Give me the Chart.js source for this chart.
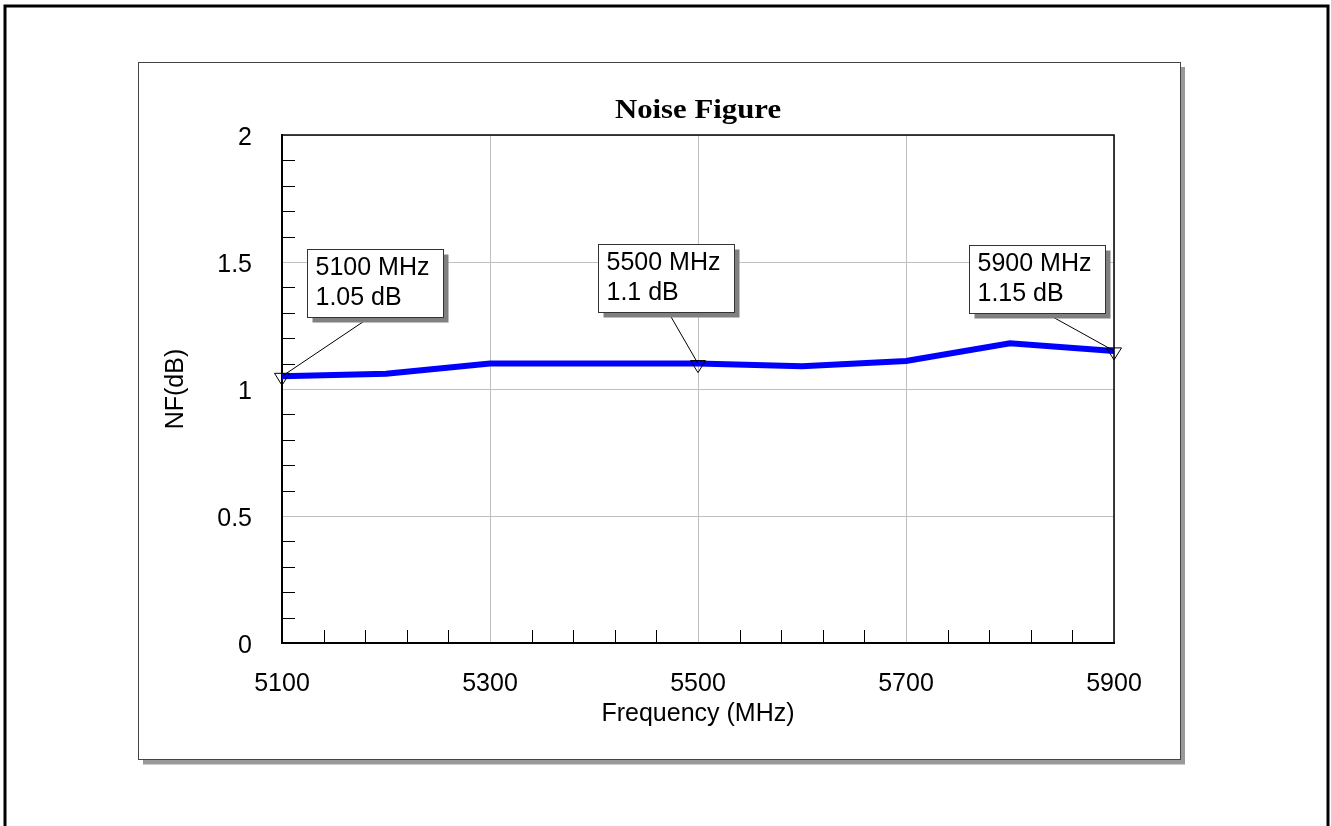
<!DOCTYPE html>
<html>
<head>
<meta charset="utf-8">
<title>Noise Figure</title>
<script src="https://cdn.jsdelivr.net/npm/chart.js@4"></script>
<style>
  html, body { margin: 0; padding: 0; background: #fff; }
  canvas { display: block; }
</style>
</head>
<body>
<canvas id="chart" width="1331" height="826"></canvas>
<script>
// values
const freqs = [5100, 5200, 5300, 5400, 5500, 5600, 5700, 5800, 5900];
const nfValues = [1.05, 1.06, 1.10, 1.10, 1.10, 1.09, 1.11, 1.18, 1.15];
const markerFreqs = [5100, 5500, 5900];
const xTickLabels = [5100, 5300, 5500, 5700, 5900];
const yTickLabels = [0, 0.5, 1, 1.5, 2];

const near = (arr, v, eps) => arr.some(a => Math.abs(a - v) < eps);
const isMajorX = v => near(xTickLabels, v, 0.5);
const isMajorY = v => near(yTickLabels, v, 1e-6);

// callout box placement relative to its marker: dx, dy, leader anchor on box bottom
const calloutPos = {
  5100: [25, -127, 62],
  5500: [-100, -120, 70],
  5900: [-145, -106, 77]
};

const framePlugin = {
  id: 'frame',
  beforeDraw(chart) {
    const c = chart.ctx;
    c.save();
    c.fillStyle = '#fff';
    c.fillRect(0, 0, chart.width, chart.height);
    // outer page border
    c.strokeStyle = '#000';
    c.lineWidth = 3;
    c.beginPath();
    c.moveTo(5, 840); c.lineTo(5, 6); c.lineTo(1328, 6); c.lineTo(1328, 840);
    c.stroke();
    // panel + drop shadow
    c.fillStyle = '#999';
    c.fillRect(143, 67, 1042, 697.5);
    c.fillStyle = '#fff';
    c.fillRect(138.5, 62.5, 1042, 697);
    c.strokeStyle = '#444';
    c.lineWidth = 1;
    c.strokeRect(138.5, 62.5, 1042, 697);
    c.restore();
  },
  afterDraw(chart) {
    const c = chart.ctx;
    const {left, right, top, bottom} = chart.chartArea;
    const xs = chart.scales.x, ys = chart.scales.y;
    c.save();
    // top / right edges of plot box
    c.strokeStyle = '#000';
    c.lineWidth = 1.5;
    c.beginPath();
    c.moveTo(left, top); c.lineTo(right, top); c.lineTo(right, bottom);
    c.stroke();
    // minor ticks pointing inward
    c.lineWidth = 1;
    c.beginPath();
    ys.ticks.forEach(t => {
      if (isMajorY(t.value)) return;
      const yy = Math.round(ys.getPixelForValue(t.value)) + 0.5;
      c.moveTo(left, yy); c.lineTo(left + 13, yy);
    });
    xs.ticks.forEach(t => {
      if (isMajorX(t.value)) return;
      const xx = Math.round(xs.getPixelForValue(t.value)) + 0.5;
      c.moveTo(xx, bottom); c.lineTo(xx, bottom - 13);
    });
    c.stroke();
    // title (stretched bold serif)
    c.fillStyle = '#000';
    c.font = 'bold 27px "Liberation Serif", "Times New Roman", serif';
    c.textAlign = 'center';
    c.textBaseline = 'alphabetic';
    c.translate((left + right) / 2, 118);
    c.scale(1.14, 1);
    c.fillText('Noise Figure', 0, 0);
    c.restore();
  }
};

const calloutPlugin = {
  id: 'callouts',
  afterDatasetsDraw(chart) {
    const c = chart.ctx;
    const xs = chart.scales.x, ys = chart.scales.y;
    const bw = 136, bh = 68;
    c.save();
    markerFreqs.forEach(f => {
      const v = nfValues[freqs.indexOf(f)];
      const px = xs.getPixelForValue(f), py = ys.getPixelForValue(v);
      const [dx, dy, ax] = calloutPos[f];
      const bx = Math.round(px + dx) + 0.5, by = Math.round(py + dy) + 0.5;
      // leader line
      c.strokeStyle = '#000';
      c.lineWidth = 1;
      c.beginPath();
      c.moveTo(bx + ax, by + bh); c.lineTo(px, py);
      c.stroke();
      // hollow marker triangle
      c.beginPath();
      c.moveTo(px - 7.5, py - 3); c.lineTo(px + 7.5, py - 3); c.lineTo(px, py + 9);
      c.closePath();
      c.stroke();
      // box with shadow
      c.fillStyle = '#808080';
      c.fillRect(bx + 5, by + 5, bw, bh);
      c.fillStyle = '#fff';
      c.fillRect(bx, by, bw, bh);
      c.strokeStyle = '#333';
      c.strokeRect(bx, by, bw, bh);
      c.fillStyle = '#000';
      c.font = '25px "Liberation Sans", Arial, sans-serif';
      c.textAlign = 'left';
      c.textBaseline = 'middle';
      c.fillText(f + ' MHz', bx + 8, by + 19);
      c.fillText(v + ' dB', bx + 8, by + 49);
    });
    c.restore();
  }
};

const tickFont = { family: '"Liberation Sans", Arial, sans-serif', size: 25 };
const gridColor = (ctx, major) =>
  ctx.tick && major(ctx.tick.value) ? '#c0c0c0' : 'rgba(0,0,0,0)';

new Chart(document.getElementById('chart'), {
  type: 'line',
  data: {
    datasets: [{
      label: 'NF',
      data: freqs.map((f, i) => ({ x: f, y: nfValues[i] })),
      borderColor: '#0000ff',
      borderWidth: 6,
      pointRadius: 0,
      tension: 0,
      fill: false
    }]
  },
  options: {
    responsive: false,
    animation: false,
    devicePixelRatio: 1,
    layout: { padding: { left: 161, right: 217, top: 135, bottom: 97 } },
    plugins: {
      legend: { display: false },
      tooltip: { enabled: false },
      title: { display: false }
    },
    scales: {
      x: {
        type: 'linear',
        min: 5100,
        max: 5900,
        afterFit: s => { s.height = 86; },
        ticks: {
          stepSize: 40,
          maxTicksLimit: 50,
          autoSkip: false,
          maxRotation: 0,
          padding: 26,
          color: '#000',
          font: tickFont,
          callback: v => isMajorX(v) ? String(v) : ''
        },
        grid: { color: ctx => gridColor(ctx, isMajorX), lineWidth: 1, drawTicks: false },
        border: { color: '#000', width: 2 },
        title: { display: true, text: 'Frequency (MHz)', color: '#000', font: tickFont, padding: 0 }
      },
      y: {
        min: 0,
        max: 2,
        afterFit: s => { s.width = 121; },
        ticks: {
          stepSize: 0.1,
          maxTicksLimit: 50,
          autoSkip: false,
          padding: 30,
          labelOffset: 3,
          color: '#000',
          font: tickFont,
          callback: v => isMajorY(v) ? String(v) : ''
        },
        grid: { color: ctx => gridColor(ctx, isMajorY), lineWidth: 1, drawTicks: false },
        border: { color: '#000', width: 2 },
        title: { display: true, text: 'NF(dB)', color: '#000', font: tickFont, padding: 0 }
      }
    }
  },
  plugins: [framePlugin, calloutPlugin]
});
</script>
</body>
</html>
